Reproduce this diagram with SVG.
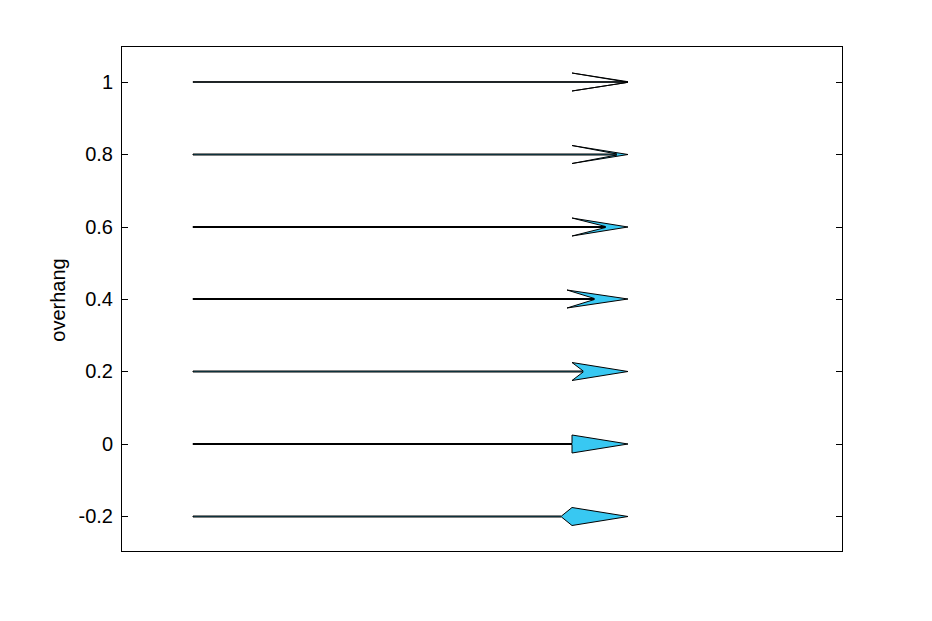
<svg xmlns="http://www.w3.org/2000/svg" width="932" height="621" viewBox="0 0 932 621">
<style>
.lbl{font-family:"Liberation Sans",Arial,sans-serif;font-size:20px;fill:#000}
.tick{stroke:#000;stroke-width:1}
.arr{fill:#38c8f2;stroke:#000;stroke-width:1;stroke-linejoin:miter}
</style>
<rect x="0" y="0" width="932" height="621" fill="#fff"/>
<g id="axes">
<rect x="121.5" y="46.5" width="721" height="505" fill="none" stroke="#000" stroke-width="1"/>
<g class="tick">
<line x1="121" y1="82.5" x2="128" y2="82.5"/><line x1="836" y1="82.5" x2="843" y2="82.5"/>
<line x1="121" y1="154.5" x2="128" y2="154.5"/><line x1="836" y1="154.5" x2="843" y2="154.5"/>
<line x1="121" y1="227.5" x2="128" y2="227.5"/><line x1="836" y1="227.5" x2="843" y2="227.5"/>
<line x1="121" y1="299.5" x2="128" y2="299.5"/><line x1="836" y1="299.5" x2="843" y2="299.5"/>
<line x1="121" y1="371.5" x2="128" y2="371.5"/><line x1="836" y1="371.5" x2="843" y2="371.5"/>
<line x1="121" y1="444.5" x2="128" y2="444.5"/><line x1="836" y1="444.5" x2="843" y2="444.5"/>
<line x1="121" y1="516.5" x2="128" y2="516.5"/><line x1="836" y1="516.5" x2="843" y2="516.5"/>
</g>
<g class="lbl" text-anchor="end">
<text x="113" y="89">1</text>
<text x="113" y="161">0.8</text>
<text x="113" y="234">0.6</text>
<text x="113" y="306">0.4</text>
<text x="113" y="378">0.2</text>
<text x="113" y="451">0</text>
<text x="113" y="523">-0.2</text>
</g>
<text class="lbl" transform="translate(65,300) rotate(-90)" text-anchor="middle">overhang</text>
</g>
<g id="connectors">
<polygon id="a1" class="arr" points="193,81.7 628,81.7 572,73 628,82.3 572,91 628,82.3 193,82.3"/>
<polygon id="a08" class="arr" points="193,154 616.8,154 572,145.5 628,154.5 572,163.5 616.8,155 193,155"/>
<polygon id="a06" class="arr" points="193,226.5 605.6,226.5 572,218 628,227 572,236 605.6,227.5 193,227.5"/>
<polygon id="a04" class="arr" points="193,298.5 594.4,298.5 567,290 628,299 567,308 594.4,299.5 193,299.5"/>
<polygon id="a02" class="arr" points="193,371 583.2,371 572,362.5 628,371.5 572,380.5 583.2,372 193,372"/>
<polygon id="a0" class="arr" points="193,443.5 572,443.5 572,435 628,444 572,453 572,444.5 193,444.5"/>
<polygon id="am02" class="arr" points="193,516 561.5,516 572,507.5 628,516.5 572,525.5 561.5,517 193,517"/>
</g>
</svg>
